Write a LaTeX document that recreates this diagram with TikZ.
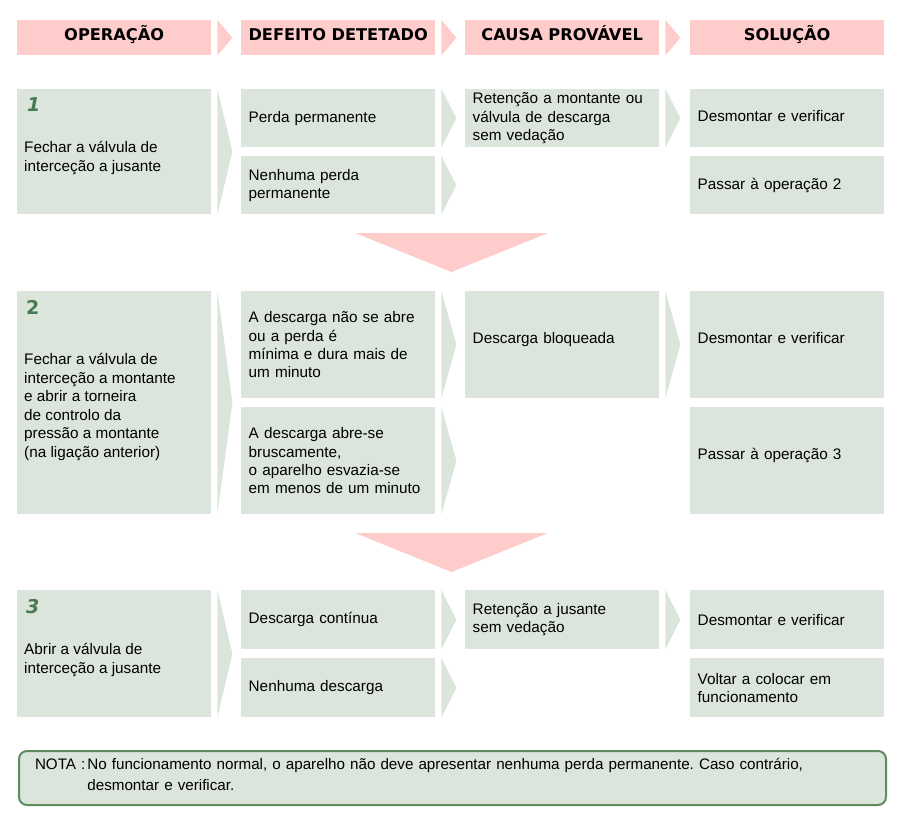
\documentclass[tikz,border=0pt]{standalone}
\usepackage{fontspec}
\setmainfont{Liberation Sans}
\newfontfamily\hdrfont{DejaVu Sans}
\usetikzlibrary{calc}
\definecolor{hdrpink}{RGB}{255,204,204}
\definecolor{boxgreen}{RGB}{220,229,220}
\definecolor{numgreen}{RGB}{70,122,80}
\definecolor{noteborder}{RGB}{95,140,95}
\newcommand{\chevr}[2]{\fill[#2] ($(#1.north east)+(6,0)$) -- ($(#1.east)+(21,0)$) -- ($(#1.south east)+(6,0)$) -- cycle;}
\frenchspacing
\begin{document}
\begin{tikzpicture}[x=1pt,y=-1pt,
  hdr/.style={fill=hdrpink, inner sep=0pt, minimum width=194pt, minimum height=35pt, text height=12pt, text depth=7pt, anchor=north west, font=\hdrfont\fontsize{16.2}{20}\selectfont\bfseries},
  cell/.style={fill=boxgreen, inner xsep=7.5pt, inner ysep=0pt, text width=179pt, minimum height=#1, anchor=north west, align=left, font=\fontsize{15.3}{18.3}\selectfont},
  raised/.style={text depth=13pt},
  opbox/.style={fill=boxgreen, inner sep=0pt, minimum width=194pt, minimum height=#1, anchor=north west},
  optext/.style={anchor=west, inner sep=0pt, align=left, font=\fontsize{15.3}{18.5}\selectfont},
  num/.style={anchor=west, inner sep=0pt, text=numgreen, font=\hdrfont\fontsize{19}{21}\selectfont\bfseries\itshape},
  numup/.style={anchor=west, inner sep=0pt, text=numgreen, font=\hdrfont\fontsize{19}{21}\selectfont\bfseries},
  down/.style={fill=hdrpink}
]
\useasboundingbox (0,0) rectangle (905,819);
% headers
\node[hdr] (h1) at (17,20) {OPERAÇÃO};
\node[hdr] (h2) at (241,20) {DEFEITO DETETADO};
\node[hdr] (h3) at (465,20) {CAUSA PROVÁVEL};
\node[hdr] (h4) at (690,20) {SOLUÇÃO};
\chevr{h1}{hdrpink}
\chevr{h2}{hdrpink}
\chevr{h3}{hdrpink}
% row 1
\node[opbox=125pt] (op1) at (17,89) {};
\node[num] (n1) at (27,105) {1};
\node[optext] (op1t) at (24,158) {Fechar a válvula de\\interceção a jusante};
\node[cell=58pt] (d11) at (241,89) {Perda permanente};
\node[cell=58pt] (d12) at (241,156) {Nenhuma perda\\permanente};
\node[cell=58pt] (c11) at (465,89) {Retenção a montante ou\\válvula de descarga\\sem vedação};
\node[cell=58pt, text depth=5pt] (s11) at (690,89) {Desmontar e verificar};
\node[cell=58pt] (s12) at (690,156) {Passar à operação 2};
\chevr{op1}{boxgreen}
\chevr{d11}{boxgreen}
\chevr{d12}{boxgreen}
\chevr{c11}{boxgreen}
% arrow 1 -> 2
\fill[down] (355,233) -- (548,233) -- (451.5,272) -- cycle;
% row 2
\node[opbox=223pt] (op2) at (17,291) {};
\node[numup] (n2) at (26,307) {2};
\node[optext] (op2t) at (24,407) {Fechar a válvula de\\interceção a montante\\e abrir a torneira\\de controlo da\\pressão a montante\\(na ligação anterior)};
\node[cell=107pt] (d21) at (241,291) {A descarga não se abre\\ou a perda é\\mínima e dura mais de\\um minuto};
\node[cell=107pt] (d22) at (241,407) {A descarga abre-se\\bruscamente,\\o aparelho esvazia-se\\em menos de um minuto};
\node[cell=107pt, raised] (c21) at (465,291) {Descarga bloqueada};
\node[cell=107pt, raised] (s21) at (690,291) {Desmontar e verificar};
\node[cell=107pt, raised] (s22) at (690,407) {Passar à operação 3};
\chevr{op2}{boxgreen}
\chevr{d21}{boxgreen}
\chevr{d22}{boxgreen}
\chevr{c21}{boxgreen}
% arrow 2 -> 3
\fill[down] (355,533) -- (548,533) -- (451.5,572) -- cycle;
% row 3
\node[opbox=127pt] (op3) at (17,590) {};
\node[num] (n3) at (26,607) {3};
\node[optext] (op3t) at (24,660) {Abrir a válvula de\\interceção a jusante};
\node[cell=59pt] (d31) at (241,590) {Descarga contínua};
\node[cell=59pt] (d32) at (241,658) {Nenhuma descarga};
\node[cell=59pt] (c31) at (465,590) {Retenção a jusante\\sem vedação};
\node[cell=59pt] (s31) at (690,590) {Desmontar e verificar};
\node[cell=59pt] (s32) at (690,658) {Voltar a colocar em\\funcionamento};
\chevr{op3}{boxgreen}
\chevr{d31}{boxgreen}
\chevr{d32}{boxgreen}
\chevr{c31}{boxgreen}
% note
\node[draw=noteborder, line width=2pt, fill=boxgreen, rounded corners=8pt, anchor=north west,
      minimum width=867pt, minimum height=54pt, inner xsep=16pt, inner ysep=0pt, text width=835pt, align=left,
      text depth=31pt, font=\fontsize{15.2}{18.3}\selectfont] (note) at (18,750)
  {\renewcommand{\arraystretch}{1.15}NOTA :\kern2pt\begin{tabular}[t]{@{}l@{}}No funcionamento normal, o aparelho não deve apresentar nenhuma perda permanente. Caso contrário,\\desmontar e verificar.\end{tabular}};
\end{tikzpicture}
\end{document}
